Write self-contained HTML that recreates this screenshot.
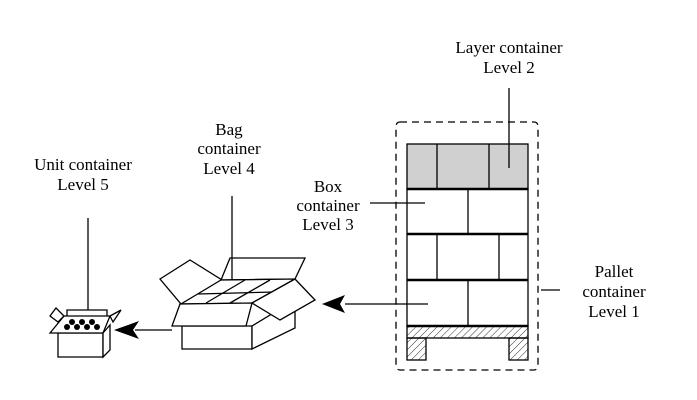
<!DOCTYPE html>
<html><head><style>body{margin:0;background:#fff}svg{display:block}text{font-family:"Liberation Serif",serif;font-size:17px;fill:#000}</style></head><body>
<svg width="697" height="400" viewBox="0 0 697 400" xmlns="http://www.w3.org/2000/svg">
<defs><pattern id="h" width="5" height="5" patternUnits="userSpaceOnUse" patternTransform="rotate(45)"><line x1="0" y1="0" x2="0" y2="5" stroke="#000" stroke-width="0.8"/></pattern></defs>
<g stroke="#000" fill="none" stroke-width="1.3">
<rect x="396" y="122" width="142" height="248" rx="4" stroke-dasharray="7,5"/>
<rect x="407" y="144" width="121" height="45" fill="#d0d0d0"/>
<line x1="437" y1="144" x2="437" y2="189"/><line x1="489" y1="144" x2="489" y2="189"/>
<rect x="407" y="189" width="121" height="137" fill="#fff"/>
<line x1="407" y1="189" x2="528" y2="189" stroke-width="2.5"/>
<line x1="407" y1="234" x2="528" y2="234" stroke-width="2.5"/>
<line x1="407" y1="280" x2="528" y2="280" stroke-width="2.5"/>
<line x1="407" y1="326" x2="528" y2="326" stroke-width="2.5"/>
<line x1="468" y1="189" x2="468" y2="234"/><line x1="437" y1="234" x2="437" y2="280"/><line x1="499" y1="234" x2="499" y2="280"/><line x1="468" y1="280" x2="468" y2="326"/>
<rect x="407" y="326" width="121" height="12" fill="url(#h)"/>
<rect x="407" y="338" width="19" height="22" fill="url(#h)"/>
<rect x="509" y="338" width="19" height="22" fill="url(#h)"/>
<line x1="509" y1="88" x2="509" y2="168"/>
<line x1="370" y1="203" x2="425" y2="203"/>
<line x1="345" y1="304" x2="428" y2="304"/>
<line x1="541" y1="290" x2="560" y2="290"/>
<line x1="232" y1="196" x2="232" y2="298"/>
<line x1="88" y1="218" x2="88" y2="322"/>
<line x1="135" y1="330" x2="172" y2="330"/>
<polygon points="182,326 252,326 252,349 182,349" fill="#fff"/>
<polygon points="252,326 295,300 295,328 252,349" fill="#fff"/>
<polygon points="160,279 190,260 222,280 181,304"/>
<polygon points="221,280 230,258 305,258 295,279"/>
<polygon points="181,304 221,280 295,279 252,303 z" fill="#fff"/>
<line x1="198" y1="294" x2="274" y2="292"/>
<line x1="206" y1="303" x2="245" y2="280"/><line x1="230" y1="303" x2="270" y2="280"/>
<polygon points="252,303 295,279 315,300 280,320 z" fill="#fff"/>
<polygon points="172,326 180,304 252,303 246,326 z" fill="#fff"/>
<polygon points="58,333 103,333 103,357 58,357" fill="#fff"/>
<polygon points="103,333 110,325 110,350 103,357" fill="#fff"/>
<polygon points="67,317 107,317 107,310 67,310" fill="#fff"/>
<polygon points="50,333 64,316 110,316 103,333 z" fill="#fff"/>
<polygon points="50,316 56,308 64,316 58,322"/>
<polygon points="110,316 121,310 113,322"/>
</g>
<g fill="#000"><circle cx="72" cy="322" r="3"/><circle cx="82" cy="322" r="3"/><circle cx="92" cy="322" r="3"/><circle cx="67" cy="327" r="3"/><circle cx="77" cy="327" r="3"/><circle cx="87" cy="327" r="3"/><circle cx="97" cy="327" r="3"/>
<polygon points="322,304 345,295 340,304 345,313"/>
<polygon points="114,330 139,321 133,330 139,339"/></g>
<text x="509" y="53" text-anchor="middle">Layer container</text><text x="509" y="73" text-anchor="middle">Level 2</text>
<text x="328" y="192" text-anchor="middle">Box</text><text x="328" y="211" text-anchor="middle">container</text><text x="328" y="230" text-anchor="middle">Level 3</text>
<text x="229" y="135" text-anchor="middle">Bag</text><text x="229" y="154" text-anchor="middle">container</text><text x="229" y="174" text-anchor="middle">Level 4</text>
<text x="83" y="170" text-anchor="middle">Unit container</text><text x="83" y="190" text-anchor="middle">Level 5</text>
<text x="614" y="277" text-anchor="middle">Pallet</text><text x="614" y="297" text-anchor="middle">container</text><text x="614" y="317" text-anchor="middle">Level 1</text>
</svg></body></html>
